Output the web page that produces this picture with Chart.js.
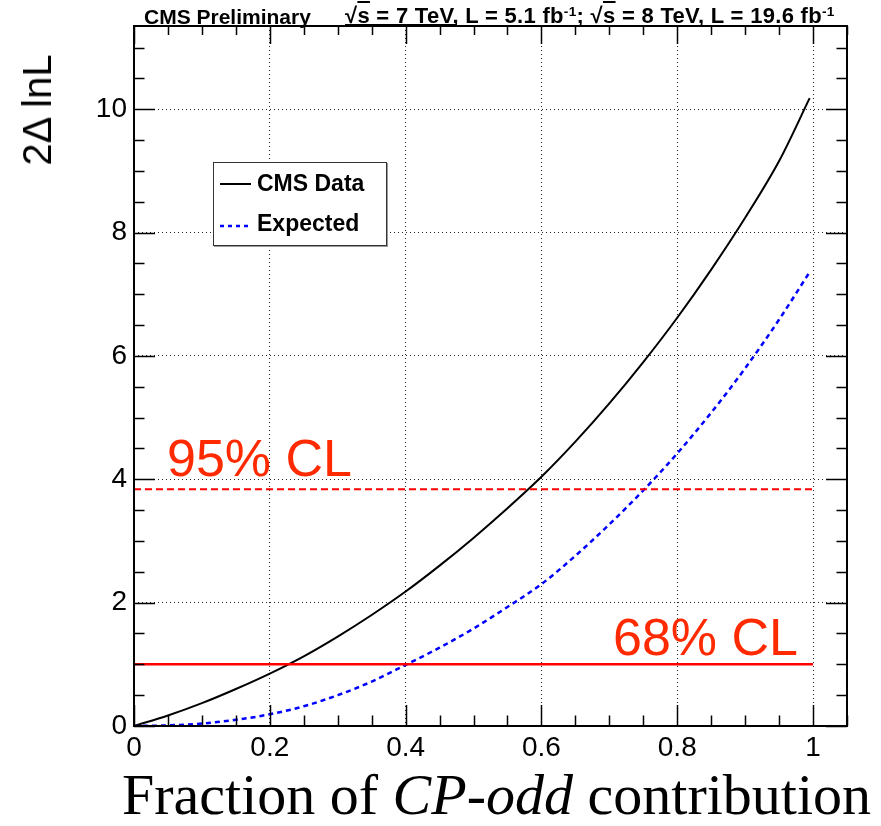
<!DOCTYPE html>
<html>
<head>
<meta charset="utf-8">
<script src="https://cdn.jsdelivr.net/npm/chart.js@4.4.1/dist/chart.umd.min.js"></script>
<style>
  html, body { margin: 0; padding: 0; background: #fff; }
  #wrap { position: relative; width: 881px; height: 826px; overflow: hidden; }
  #c { position: absolute; left: 0; top: 0; }
  .t { position: absolute; white-space: nowrap; line-height: 1; color: #000; }
  .sans { font-family: 'Liberation Sans', Arial, Helvetica, sans-serif; }
  sup { font-size: 62%; vertical-align: 0; position: relative; top: -0.55em; }
</style>
</head>
<body>
<div id="wrap">
  <canvas id="c" width="881" height="826"></canvas>

  <div class="t sans" style="left:144px;top:6px;font-size:21px;font-weight:bold;">CMS Preliminary</div>
  <div class="t sans" style="left:345px;top:5px;font-size:22px;font-weight:bold;letter-spacing:0.3px;">√<span style="text-decoration:overline">s</span> = 7 TeV, L = 5.1 fb<sup>-1</sup>; √<span style="text-decoration:overline">s</span> = 8 TeV, L = 19.6 fb<sup>-1</sup></div>
  <div style="position:absolute;left:345px;top:24px;width:112px;height:2px;background:#000;"></div>

  <div class="t sans" style="left:37px;top:110px;font-size:40px;transform:translate(-50%,-50%) rotate(-90deg);">2Δ lnL</div>

  <div class="t" style="left:122px;top:766px;font-family:'Liberation Serif','Times New Roman',serif;font-size:58px;">Fraction of <i>CP-odd</i> contribution</div>

  <div class="t sans" style="left:167px;top:432px;font-size:52px;color:#ff2a00;">95% CL</div>
  <div class="t sans" style="left:613px;top:611px;font-size:52px;color:#ff2a00;">68% CL</div>

  <div id="legend" style="position:absolute;left:213px;top:162px;width:172px;height:82px;background:#fff;border:1px solid #333;box-shadow:1px 1px 0 #999;">
    <svg width="40" height="82" style="position:absolute;left:0;top:0">
      <line x1="6" y1="21" x2="37" y2="21" stroke="#000" stroke-width="2"/>
      <line x1="6" y1="63" x2="37" y2="63" stroke="#0000ff" stroke-width="2.5" stroke-dasharray="4,4"/>
    </svg>
    <div class="t sans" style="left:43px;top:9px;font-size:23px;font-weight:bold;">CMS Data</div>
    <div class="t sans" style="left:43px;top:49px;font-size:23px;font-weight:bold;">Expected</div>
  </div>
</div>

<script>
// ---- data ----
const fractionX   = [0, 0.05, 0.10, 0.15, 0.20, 0.25, 0.30, 0.35, 0.40, 0.45, 0.50, 0.55, 0.60, 0.65, 0.70, 0.75, 0.80, 0.85, 0.90, 0.95, 0.995];
const cmsData     = [0, 0.17, 0.37, 0.60, 0.85, 1.13, 1.45, 1.80, 2.18, 2.60, 3.05, 3.53, 4.04, 4.61, 5.23, 5.90, 6.62, 7.40, 8.24, 9.16, 10.18];
const expected    = [0, 0.01, 0.04, 0.10, 0.19, 0.32, 0.50, 0.72, 0.99, 1.27, 1.58, 1.93, 2.30, 2.76, 3.27, 3.82, 4.42, 5.08, 5.80, 6.59, 7.36];
const clLevelX    = [0, 1.0];
const cl95        = [3.84, 3.84];
const cl68        = [1.0, 1.0];
const xTickLabels = [0, 0.2, 0.4, 0.6, 0.8, 1];
const yTickLabels = [0, 2, 4, 6, 8, 10];

const pts = (xs, ys) => xs.map((x, i) => ({ x: x, y: ys[i] }));

const frameTicks = {
  id: 'frameTicks',
  afterDatasetsDraw(chart) {
    const { ctx, chartArea: a, scales } = chart;
    const xs = scales.x, ys = scales.y;
    ctx.save();
    ctx.strokeStyle = '#000';
    ctx.lineWidth = 1.5;
    for (let i = 0; i <= 21; i++) {
      const v = i * 0.05;
      const px = Math.round(xs.getPixelForValue(v)) + 0.5;
      const major = i % 4 === 0;
      const bl = major ? 21 : 10.5;
      const tl = major ? 18 : 9;
      ctx.beginPath();
      ctx.moveTo(px, a.bottom); ctx.lineTo(px, a.bottom - bl);
      ctx.moveTo(px, a.top); ctx.lineTo(px, a.top + tl);
      ctx.stroke();
    }
    for (let i = 0; i <= 22; i++) {
      const v = i * 0.5;
      const py = Math.round(ys.getPixelForValue(v)) + 0.5;
      const major = i % 4 === 0;
      const l = major ? 21 : 10.5;
      ctx.beginPath();
      ctx.moveTo(a.left, py); ctx.lineTo(a.left + l, py);
      ctx.moveTo(a.right, py); ctx.lineTo(a.right - l, py);
      ctx.stroke();
    }
    ctx.lineWidth = 2;
    ctx.strokeRect(a.left, a.top, a.right - a.left, a.bottom - a.top);
    ctx.restore();
  }
};

const keepOnly = (list) => (scale) => {
  scale.ticks = list.map(v => ({ value: v }));
};

new Chart(document.getElementById('c'), {
  type: 'line',
  data: {
    datasets: [
      { label: '95% CL', data: pts(clLevelX, cl95), borderColor: '#ff0000', borderWidth: 2, borderDash: [7, 4], pointRadius: 0, tension: 0 },
      { label: '68% CL', data: pts(clLevelX, cl68), borderColor: '#ff0000', borderWidth: 2.5, pointRadius: 0, tension: 0 },
      { label: 'Expected', data: pts(fractionX, expected), borderColor: '#0000ff', borderWidth: 2.5, borderDash: [5, 4], pointRadius: 0, cubicInterpolationMode: 'monotone' },
      { label: 'CMS Data', data: pts(fractionX, cmsData), borderColor: '#000000', borderWidth: 2, pointRadius: 0, cubicInterpolationMode: 'monotone' }
    ]
  },
  options: {
    responsive: false,
    animation: false,
    devicePixelRatio: 1,
    layout: { padding: { left: 0, right: 34, top: 26, bottom: 0 } },
    plugins: { legend: { display: false }, tooltip: { enabled: false } },
    scales: {
      x: {
        type: 'linear', min: 0, max: 1.05,
        afterBuildTicks: keepOnly(xTickLabels),
        afterFit: (s) => { s.height = 100; },
        grid: { color: '#222', lineWidth: 1, drawTicks: false },
        border: { display: false, dash: [1, 3] },
        ticks: {
          padding: 5, color: '#000',
          font: { family: "'Liberation Sans', Arial, sans-serif", size: 28 },
          maxRotation: 0, autoSkip: false,
          callback: (v) => String(v)
        }
      },
      y: {
        type: 'linear', min: 0, max: 11.35,
        afterBuildTicks: keepOnly(yTickLabels),
        afterFit: (s) => { s.width = 134; },
        grid: { color: '#222', lineWidth: 1, drawTicks: false },
        border: { display: false, dash: [1, 3] },
        ticks: {
          padding: 7, color: '#000',
          font: { family: "'Liberation Sans', Arial, sans-serif", size: 28 },
          autoSkip: false,
          callback: (v) => String(v)
        }
      }
    }
  },
  plugins: [frameTicks]
});
</script>
</body>
</html>
